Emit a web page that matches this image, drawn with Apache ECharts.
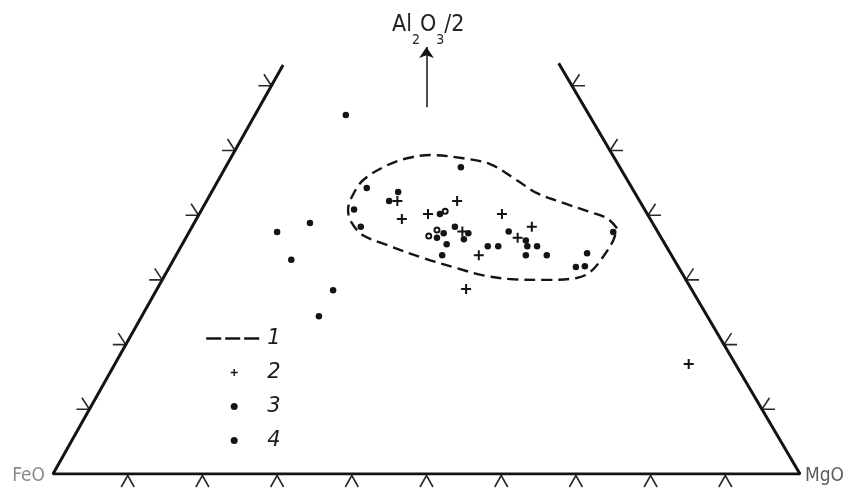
<!DOCTYPE html>
<html>
<head>
<meta charset="utf-8">
<script src="https://cdn.jsdelivr.net/npm/echarts@6/dist/echarts.min.js"></script>
<style>
  html, body { margin: 0; padding: 0; background: #ffffff; }
  #chart { width: 846px; height: 491px; }
</style>
</head>
<body>
<div id="chart"></div>
<script>
// Diagram coordinates: x = position along the FeO–MgO base (0–100),
// y = Al2O3/2 level in percent of the full triangle height.
const frameLine = [[30.8, 63.2], [0, 0], [100, 0], [67.7, 63.5]];
const baseTicks = [10, 20, 30, 40, 50, 60, 70, 80, 90];
const sideTicks = [10, 20, 30, 40, 50, 60];
const cornerNames = ['FeO', 'MgO'];
const arrowAxis = [[50, 56.7], [50, 66]];

// 1 — outline of the main field
const field1 = [
  [75.5, 38.0], [74.2, 39.5], [71.9, 40.5], [68.3, 41.9], [64.8, 43.4], [62.1, 45.4],
  [58.5, 47.9], [54.9, 48.8], [50.5, 49.3], [47.4, 48.8], [44.7, 47.7], [41.5, 45.4],
  [40.0, 42.8], [39.5, 40.8], [40.0, 38.8], [41.5, 36.9], [44.7, 35.4], [49.5, 33.4],
  [54.1, 31.8], [57.6, 30.7], [61.6, 30.1], [66.1, 30.0], [70.1, 30.3], [71.9, 31.2],
  [73.6, 33.5], [75.0, 36.1], [75.5, 38.0]
];

// 2 — crosses
const points2 = [
  [46.1, 42.2], [46.7, 39.4], [50.2, 40.2], [54.1, 42.2], [54.8, 37.5], [57.0, 33.8],
  [60.1, 40.2], [62.2, 36.5], [64.1, 38.2], [55.3, 28.6], [85.1, 17.0]
];

// 3 — dots inside the field
const points3 = [
  [54.6, 47.4], [42.0, 44.2], [46.2, 43.6], [45.0, 42.2], [40.3, 40.9], [41.2, 38.2],
  [51.8, 40.2], [51.4, 36.5], [52.3, 37.2], [52.7, 35.5], [53.8, 38.2], [55.6, 37.2],
  [55.0, 36.3], [52.1, 33.8], [58.2, 35.2], [59.6, 35.2], [61.0, 37.5], [63.3, 36.1],
  [63.5, 35.2], [64.8, 35.2], [63.3, 33.8], [66.1, 33.8], [75.0, 37.4], [71.5, 34.1],
  [70.0, 32.0], [71.2, 32.1]
];

// 4 — dots towards the FeO side
const points4 = [
  [39.2, 55.5], [34.4, 38.8], [30.0, 37.4], [31.9, 33.1], [37.5, 28.4], [35.6, 24.4]
];

// small open circles
const openPoints = [[52.5, 40.6], [51.4, 37.7], [50.3, 36.8]];

const INK = '#141414';
const CLEAR = 'rgba(0,0,0,0)';
const CROSS = 'path://M4,0h2v4h4v2h-4v4h-2v-4h-4v-2h4z';
const NARROW = "'DejaVu Sans Condensed', 'Liberation Sans Narrow', 'DejaVu Sans', sans-serif";

// tick data: [side, level]; side 0 = base, 1 = FeO side, 2 = MgO side
const tickData = baseTicks.map(v => [0, v])
  .concat(sideTicks.map(v => [1, v]))
  .concat(sideTicks.map(v => [2, v]));

function renderTick(params, api) {
  const side = api.value(0);
  const lv = api.value(1);
  let pts;
  if (side === 0) {
    const p = api.coord([lv, 0]);
    pts = [[p[0] - 6.5, p[1] + 13], [p[0], p[1] + 1.5], [p[0] + 6.5, p[1] + 13]];
  } else {
    const corner = side === 1 ? frameLine[1] : frameLine[2];
    const end = side === 1 ? frameLine[0] : frameLine[3];
    const t = lv / end[1];
    const p = api.coord([corner[0] + (end[0] - corner[0]) * t, lv]);
    const s = side === 1 ? -1 : 1;
    pts = [[p[0] + s * 13, p[1]], [p[0], p[1]], [p[0] + s * 7.5, p[1] - 11.5]];
  }
  return {
    type: 'polyline',
    shape: { points: pts },
    style: { stroke: '#2a2a2a', lineWidth: 1.6, fill: 'none' }
  };
}

const chart = echarts.init(document.getElementById('chart'), null, { renderer: 'canvas' });

chart.setOption({
  animation: false,
  backgroundColor: '#ffffff',
  grid: { left: 53, right: 46, top: 8.16, bottom: 17 },
  xAxis: { type: 'value', min: 0, max: 100, show: false },
  yAxis: { type: 'value', min: 0, max: 72, show: false },
  legend: {
    data: [
      { name: '1', itemStyle: { color: CLEAR, borderColor: CLEAR, borderWidth: 0 },
        lineStyle: { type: [15, 4], width: 2.4, color: INK } },
      '2', '3', '4'
    ],
    orient: 'vertical',
    left: 200,
    top: 323,
    itemWidth: 56,
    itemHeight: 7,
    itemGap: 13,
    selectedMode: false,
    textStyle: {
      fontFamily: "'DejaVu Sans', sans-serif",
      fontStyle: 'italic',
      fontSize: 21,
      lineHeight: 20,
      color: '#1c1c1c'
    }
  },
  graphic: [{
    type: 'text',
    left: 392,
    top: 14,
    style: {
      text: 'Al{sub|2}O{sub|3}/2',
      font: "23px 'DejaVu Sans Condensed', 'DejaVu Sans', sans-serif",
      fill: '#222',
      rich: {
        sub: {
          fontSize: 14,
          fontFamily: NARROW,
          fill: '#222',
          verticalAlign: 'bottom',
          padding: [29, 0, 0, 0]
        }
      }
    }
  }],
  series: [
    {
      name: 'frame',
      type: 'line',
      data: frameLine,
      symbol: 'none',
      silent: true,
      lineStyle: { color: INK, width: 3 },
      z: 3
    },
    {
      name: 'ticks',
      type: 'custom',
      data: tickData,
      renderItem: renderTick,
      silent: true,
      z: 3
    },
    {
      name: 'corners',
      type: 'scatter',
      data: [
        { value: [0, 0, 0], label: { position: 'left', distance: 8, color: '#6b6b6b', offset: [0, 2] } },
        { value: [100, 0, 1], label: { position: 'right', distance: 5, color: '#333', offset: [0, 2] } }
      ],
      symbolSize: 0,
      silent: true,
      label: {
        show: true,
        fontFamily: NARROW,
        fontSize: 19,
        formatter: p => cornerNames[p.value[2]]
      },
      itemStyle: { color: INK },
      encode: { x: 0, y: 1 },
      z: 4
    },
    {
      name: 'arrow',
      type: 'lines',
      coordinateSystem: 'cartesian2d',
      data: [{ coords: arrowAxis }],
      symbol: ['none', 'arrow'],
      symbolSize: 11,
      silent: true,
      lineStyle: { color: INK, width: 1.5, opacity: 1 }
    },
    {
      name: '1',
      type: 'line',
      data: field1,
      smooth: 0.35,
      symbol: 'none',
      silent: true,
      itemStyle: { color: INK },
      lineStyle: { color: INK, width: 2.4, type: [11, 6] }
    },
    {
      name: '2',
      type: 'scatter',
      data: points2,
      symbol: CROSS,
      symbolSize: 10,
      itemStyle: { color: INK, opacity: 1 }
    },
    {
      name: '3',
      type: 'scatter',
      data: points3,
      symbol: 'circle',
      symbolSize: 6.5,
      itemStyle: { color: INK, opacity: 1 }
    },
    {
      name: '4',
      type: 'scatter',
      data: points4,
      symbol: 'circle',
      symbolSize: 6.5,
      itemStyle: { color: INK, opacity: 1 }
    },
    {
      name: 'open',
      type: 'scatter',
      data: openPoints,
      symbol: 'emptyCircle',
      symbolSize: 5,
      itemStyle: { color: INK, borderColor: INK, borderWidth: 1.3, opacity: 1 }
    }
  ]
});
</script>
</body>
</html>
